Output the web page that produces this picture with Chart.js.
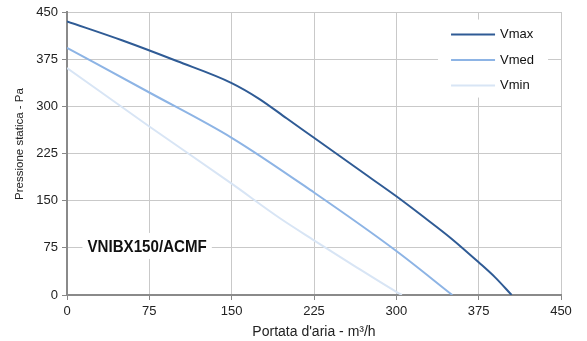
<!DOCTYPE html>
<html>
<head>
<meta charset="utf-8">
<script src="https://cdn.jsdelivr.net/npm/chart.js@4"></script>
<style>
html,body{margin:0;padding:0;background:#fff;}
#wrap{width:587px;height:341px;position:relative;}
</style>
</head>
<body>
<div id="wrap"><canvas id="c" width="587" height="341"></canvas></div>
<script>
// Data
const seriesNames = ["Vmax", "Vmed", "Vmin"];
const vmaxFlow = [0, 50, 100, 150, 175, 200, 225, 250, 275, 300, 325, 350, 375, 390, 405];
const vmaxPres = [435, 405, 372, 337, 312, 281, 250, 219, 188, 157, 124, 90, 52, 28, 0];
const vmedFlow = [0, 75, 150, 225, 300, 351];
const vmedPres = [393, 322, 250, 163, 70, 0];
const vminFlow = [0, 75, 150, 194, 225, 262, 300, 305];
const vminPres = [361, 268, 177, 122, 87, 46, 5, 0];
const xTicks = [0, 75, 150, 225, 300, 375, 450];
const yTicks = [0, 75, 150, 225, 300, 375, 450];
const modelLabel = "VNIBX150/ACMF";
const xTitle = "Portata d'aria - m³/h";
const yTitle = "Pressione statica - Pa";

const colors = ["#2f5b95", "#8db4e5", "#d8e5f5"];
const toPts = (xs, ys) => xs.map((x, i) => ({x: x, y: ys[i]}));

const overlayPlugin = {
  id: 'overlay',
  afterDraw(chart) {
    const ctx = chart.ctx;
    const xs = chart.scales.x, ys = chart.scales.y;
    ctx.save();
    // legend box
    const bx = xs.getPixelForValue(338), by = ys.getPixelForValue(438);
    ctx.fillStyle = '#fff';
    ctx.fillRect(bx, by, 110, 78);
    ctx.font = '13px "Liberation Sans", Arial, sans-serif';
    ctx.textBaseline = 'middle';
    chart.data.datasets.forEach((ds, i) => {
      const y = by + 15 + i * 25.5;
      ctx.strokeStyle = ds.borderColor;
      ctx.lineWidth = 2;
      ctx.beginPath();
      ctx.moveTo(bx + 13, y);
      ctx.lineTo(bx + 57, y);
      ctx.stroke();
      ctx.fillStyle = '#111';
      ctx.fillText(ds.label, bx + 62, y);
    });
    // model label (condensed bold)
    const lx = xs.getPixelForValue(73), ly = ys.getPixelForValue(78);
    ctx.font = 'bold 17px "Liberation Sans", Arial, sans-serif';
    ctx.textAlign = 'center';
    const sx = 0.89;
    const w = ctx.measureText(modelLabel).width * sx;
    ctx.fillStyle = '#fff';
    ctx.fillRect(lx - w / 2 - 5, ly - 13, w + 10, 26);
    ctx.fillStyle = '#111';
    ctx.translate(lx, ly);
    ctx.scale(sx, 1);
    ctx.fillText(modelLabel, 0, 1);
    ctx.restore();
    // y axis title
    ctx.save();
    ctx.font = '11.5px "Liberation Sans", Arial, sans-serif';
    ctx.fillStyle = '#222';
    ctx.textAlign = 'center';
    ctx.textBaseline = 'middle';
    ctx.translate(20, 144);
    ctx.rotate(-Math.PI / 2);
    ctx.fillText(yTitle, 0, 0);
    ctx.restore();
  }
};

new Chart(document.getElementById('c'), {
  type: 'scatter',
  data: {
    datasets: [
      {label: seriesNames[0], data: toPts(vmaxFlow, vmaxPres)},
      {label: seriesNames[1], data: toPts(vmedFlow, vmedPres)},
      {label: seriesNames[2], data: toPts(vminFlow, vminPres)}
    ].map((d, i) => Object.assign(d, {
      showLine: true, borderColor: colors[i], backgroundColor: colors[i],
      borderWidth: 2, pointRadius: 0, cubicInterpolationMode: 'monotone'
    }))
  },
  options: {
    responsive: false,
    animation: false,
    layout: {padding: {top: 12, right: 26, left: 0, bottom: 0}},
    plugins: {legend: {display: false}, tooltip: {enabled: false}},
    scales: {
      x: {
        type: 'linear', min: 0, max: 450,
        afterBuildTicks: s => { s.ticks = xTicks.map(v => ({value: v})); },
        afterFit: s => { s.height = 46; },
        grid: {color: '#c9c9c9', lineWidth: 1, tickLength: 5, drawTicks: true, tickColor: '#888'},
        border: {color: '#8a8a8a', width: 2},
        ticks: {color: '#222', font: {family: 'Liberation Sans', size: 13}, padding: 4, maxRotation: 0},
        title: {display: true, text: xTitle, color: '#222', font: {family: 'Liberation Sans', size: 14}, padding: {top: 2, bottom: 0}}
      },
      y: {
        type: 'linear', min: 0, max: 450,
        afterBuildTicks: s => { s.ticks = yTicks.map(v => ({value: v})); },
        afterFit: s => { s.width = 67; },
        grid: {color: '#c9c9c9', lineWidth: 1, tickLength: 5, drawTicks: true, tickColor: '#888'},
        border: {color: '#8a8a8a', width: 2},
        ticks: {color: '#222', font: {family: 'Liberation Sans', size: 13}, padding: 4},
        title: {display: false}
      }
    }
  },
  plugins: [overlayPlugin]
});
</script>
</body>
</html>
